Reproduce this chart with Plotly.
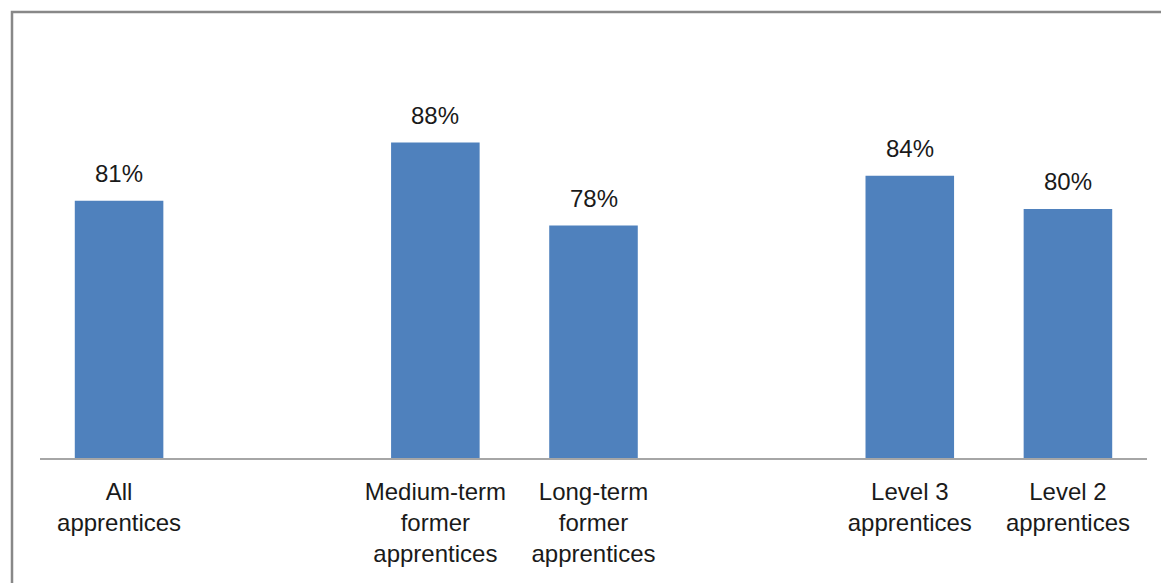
import plotly.graph_objects as go

# Chart slots: empty strings mark the spacer slots between the groups
categories = [
    "All<br>apprentices",
    "",
    "Medium-term<br>former<br>apprentices",
    "Long-term<br>former<br>apprentices",
    "",
    "Level 3<br>apprentices",
    "Level 2<br>apprentices",
]
values = [81, None, 88, 78, None, 84, 80]

positions = list(range(len(categories)))
bar_x = [p for p, v in zip(positions, values) if v is not None]
bar_y = [v for v in values if v is not None]

BAR_COLOR = "#4F81BD"
TEXT_COLOR = "#1a1a1a"
FONT = "Liberation Sans, Arial, sans-serif"

W, H = 1161, 583
ML, MR, MT, MB = 40, 14, 43, 125

fig = go.Figure()
fig.add_trace(go.Bar(
    x=bar_x,
    y=bar_y,
    marker=dict(color=BAR_COLOR, line=dict(width=0)),
    width=0.56,
    hoverinfo="skip",
))

# value labels above each bar
for x, v in zip(bar_x, bar_y):
    fig.add_annotation(
        x=x, y=v, xref="x", yref="y",
        text=f"{v}%", showarrow=False,
        yanchor="bottom", yshift=12,
        font=dict(family=FONT, size=24, color=TEXT_COLOR),
    )

# outer chart border (left and top edges visible)
pw = W - ML - MR
ph = H - MT - MB
fig.add_shape(
    type="rect", xref="paper", yref="paper",
    x0=(12 - ML) / pw, x1=(W + 20 - ML) / pw,
    y0=-(H + 20 - MT - ph) / ph, y1=(H - 12 - MB) / ph,
    line=dict(color="#888888", width=2.5),
    fillcolor="rgba(0,0,0,0)", layer="below",
)

fig.update_layout(
    width=W, height=H,
    margin=dict(l=ML, r=MR, t=MT, b=MB, pad=0),
    paper_bgcolor="white",
    plot_bgcolor="white",
    showlegend=False,
    font=dict(family=FONT, size=24, color=TEXT_COLOR),
    xaxis=dict(
        range=[-0.5, len(categories) - 0.5],
        tickmode="array",
        tickvals=positions,
        ticktext=categories,
        showline=True, linecolor="#a6a6a6", linewidth=1.5,
        showgrid=False, zeroline=False, ticks="",
        ticklabelstandoff=11,
        tickfont=dict(family=FONT, size=24, color=TEXT_COLOR),
        fixedrange=True,
    ),
    yaxis=dict(
        range=[50, 100],
        visible=False,
        showgrid=False, zeroline=False,
        fixedrange=True,
    ),
)

fig.write_html("out.html")
